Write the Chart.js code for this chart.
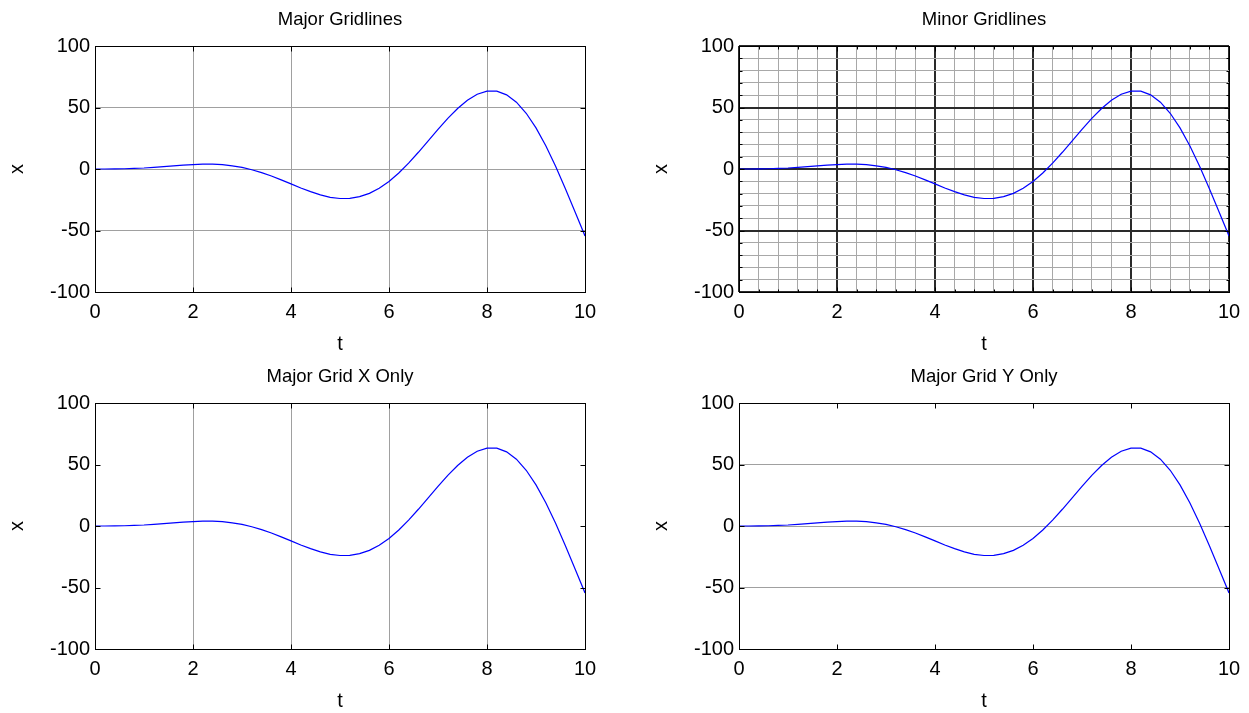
<!DOCTYPE html>
<html>
<head>
<meta charset="utf-8">
<script src="https://cdn.jsdelivr.net/npm/chart.js@4.4.1/dist/chart.umd.min.js"></script>
<style>
  html, body { margin: 0; padding: 0; background: #fff; }
  body { width: 1249px; height: 713px; position: relative; overflow: hidden; }
  canvas { position: absolute; }
</style>
</head>
<body>
<canvas id="p0" width="624" height="356" style="left:0;top:0"></canvas>
<canvas id="p1" width="625" height="356" style="left:624px;top:0"></canvas>
<canvas id="p2" width="624" height="356" style="left:0;top:357px"></canvas>
<canvas id="p3" width="625" height="356" style="left:624px;top:357px"></canvas>
<script>
// Sampled signal x(t)
const T = [0, 0.2, 0.4, 0.6, 0.8, 1.0, 1.2, 1.4, 1.6, 1.8,
           2.0, 2.2, 2.4, 2.6, 2.8, 3.0, 3.2, 3.4, 3.6, 3.8,
           4.0, 4.2, 4.4, 4.6, 4.8, 5.0, 5.2, 5.4, 5.6, 5.8,
           6.0, 6.2, 6.4, 6.6, 6.8, 7.0, 7.2, 7.4, 7.6, 7.8,
           8.0, 8.2, 8.4, 8.6, 8.8, 9.0, 9.2, 9.4, 9.6, 9.8, 10.0];
const X = [0, 0.0, 0.1, 0.2, 0.5, 0.8, 1.3, 1.9, 2.6, 3.2,
           3.6, 3.9, 3.9, 3.5, 2.6, 1.3, -0.6, -3.0, -5.7, -8.8,
           -12.1, -15.4, -18.4, -21.0, -23.0, -24.0, -23.9, -22.5, -19.8, -15.6,
           -10.1, -3.2, 4.8, 13.6, 22.9, 32.2, 41.2, 49.2, 55.9, 60.8,
           63.3, 63.3, 60.3, 54.3, 45.3, 33.4, 18.9, 2.2, -16.1, -35.2, -54.4];

// Axis ticks
const X_TICKS = [0, 2, 4, 6, 8, 10];
const Y_TICKS = [-100, -50, 0, 50, 100];
const X_MINOR_STEP = 0.4;
const Y_MINOR_STEP = 10;

// Panel titles and axis labels
const TITLES = ['Major Gridlines', 'Minor Gridlines', 'Major Grid X Only', 'Major Grid Y Only'];
const X_LABEL = 't';
const Y_LABEL = 'x';

const FONT = 'Arial, "Liberation Sans", Helvetica, sans-serif';
const isMajor = (v, list) => list.some(m => Math.abs(m - v) < 1e-6);

function scaleFor(axis, grid) {
  const majors = axis === 'x' ? X_TICKS : Y_TICKS;
  const opts = {
    type: 'linear',
    position: axis === 'x' ? 'bottom' : 'left',
    min: majors[0],
    max: majors[majors.length - 1],
    border: { display: false },
    grid: {
      display: grid !== 'none',
      drawTicks: false,
      lineWidth: grid === 'minor'
        ? (c => isMajor(c.tick.value, majors) ? 2 : 1)
        : 1,
      color: grid === 'minor'
        ? (c => isMajor(c.tick.value, majors) ? '#2a2a2a' : '#a8a8a8')
        : '#a0a0a0'
    },
    ticks: {
      autoSkip: false,
      maxRotation: 0,
      minRotation: 0,
      padding: axis === 'x' ? 8 : 5,
      color: '#000',
      font: { family: FONT, size: 20, lineHeight: 1.2 },
      callback: v => isMajor(v, majors) ? String(Math.round(v)) : ''
    },
    title: {
      display: true,
      text: axis === 'x' ? X_LABEL : Y_LABEL,
      color: '#000',
      font: { family: FONT, size: 20, lineHeight: 1.2 },
      padding: axis === 'x' ? { top: 0, bottom: 0 } : { top: 5, bottom: 0 }
    },
    afterFit: s => { if (axis === 'x') s.height = 64; else s.width = 95; }
  };
  if (grid === 'minor') {
    opts.ticks.stepSize = axis === 'x' ? X_MINOR_STEP : Y_MINOR_STEP;
  } else {
    opts.afterBuildTicks = s => { s.ticks = majors.map(v => ({ value: v })); };
  }
  return opts;
}

// Axes box with inward tick marks on all four sides
const boxPlugin = {
  id: 'axesBox',
  afterDatasetsDraw(chart) {
    const { ctx, chartArea: a, scales: { x, y } } = chart;
    const L = Math.round(a.left) + 0.5, R = Math.round(a.right) + 0.5;
    const Tp = Math.round(a.top) + 0.5, B = Math.round(a.bottom) + 0.5;
    ctx.save();
    ctx.strokeStyle = '#000';
    ctx.lineWidth = 1;
    ctx.strokeRect(L, Tp, R - L, B - Tp);
    ctx.beginPath();
    x.ticks.forEach(t => {
      const p = Math.round(x.getPixelForValue(t.value)) + 0.5;
      const len = isMajor(t.value, X_TICKS) ? 5 : 3;
      ctx.moveTo(p, B); ctx.lineTo(p, B - len);
      ctx.moveTo(p, Tp); ctx.lineTo(p, Tp + len);
    });
    y.ticks.forEach(t => {
      const p = Math.round(y.getPixelForValue(t.value)) + 0.5;
      const len = isMajor(t.value, Y_TICKS) ? 5 : 3;
      ctx.moveTo(L, p); ctx.lineTo(L + len, p);
      ctx.moveTo(R, p); ctx.lineTo(R - len, p);
    });
    ctx.stroke();
    ctx.restore();
  }
};

const PANELS = [
  { id: 'p0', title: TITLES[0], gx: 'major', gy: 'major', padL: 0,  padR: 39 },
  { id: 'p1', title: TITLES[1], gx: 'minor', gy: 'minor', padL: 20, padR: 20 },
  { id: 'p2', title: TITLES[2], gx: 'major', gy: 'none',  padL: 0,  padR: 39 },
  { id: 'p3', title: TITLES[3], gx: 'none',  gy: 'major', padL: 20, padR: 20 }
];

PANELS.forEach(p => {
  new Chart(document.getElementById(p.id), {
    type: 'line',
    data: {
      datasets: [{
        data: T.map((t, i) => ({ x: t, y: X[i] })),
        borderColor: '#0000ff',
        borderWidth: 1.2,
        pointRadius: 0,
        tension: 0,
        fill: false
      }]
    },
    options: {
      responsive: false,
      animation: false,
      devicePixelRatio: 1,
      parsing: false,
      layout: { padding: { left: p.padL, right: p.padR, top: 0, bottom: 0 } },
      scales: { x: scaleFor('x', p.gx), y: scaleFor('y', p.gy) },
      plugins: {
        legend: { display: false },
        tooltip: { enabled: false },
        title: {
          display: true,
          text: p.title,
          fullSize: false,
          color: '#000',
          font: { family: FONT, size: 18.5, weight: 'normal', lineHeight: 1.2 },
          padding: { top: 9, bottom: 14.8 }
        }
      }
    },
    plugins: [boxPlugin]
  });
});
</script>
</body>
</html>
